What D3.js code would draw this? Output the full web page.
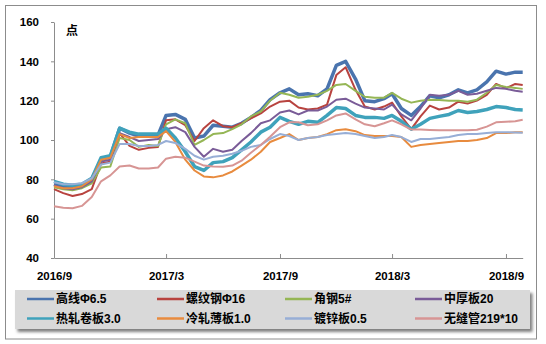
<!DOCTYPE html>
<html>
<head>
<meta charset="utf-8">
<script src="https://cdn.jsdelivr.net/npm/d3@7"></script>
<style>
  body { margin: 0; background: #fff; }
  svg { display: block; }
</style>
</head>
<body>
<svg id="chart" width="546" height="344"></svg>
<script>
// Semi-monthly observation dates
const dates = [
  "2016-09-01","2016-09-16","2016-10-01","2016-10-16","2016-11-01","2016-11-16","2016-12-01","2016-12-16",
  "2017-01-01","2017-01-16","2017-02-01","2017-02-16","2017-03-01","2017-03-16","2017-04-01","2017-04-16",
  "2017-05-01","2017-05-16","2017-06-01","2017-06-16","2017-07-01","2017-07-16","2017-08-01","2017-08-16",
  "2017-09-01","2017-09-16","2017-10-01","2017-10-16","2017-11-01","2017-11-16","2017-12-01","2017-12-16",
  "2018-01-01","2018-01-16","2018-02-01","2018-02-16","2018-03-01","2018-03-16","2018-04-01","2018-04-16",
  "2018-05-01","2018-05-16","2018-06-01","2018-06-16","2018-07-01","2018-07-16","2018-08-01","2018-08-16",
  "2018-09-01","2018-09-16","2018-09-28"
];

// Price index series (points)
const gaoxian = [77.5,76,76,77,80,90,91.5,106,103.5,102,102.5,102.5,112.5,113,110.5,101,102,107.5,107,106.5,108.5,111.5,115,120.5,124,126,123,123.5,122.5,126,138,140,131,120,119.5,121,123.5,116,112.5,117,122.5,121.5,123,125.5,124,125.5,129.5,135,133.5,134.5,134.5];
const luowengang = [75,73,71.5,72.5,75,88,89,103.5,97,95,96,96.5,110,110.5,107.5,99.5,106,110,107,106.5,108.5,111,113.5,117,119.5,120,116.5,115.5,116,118,133,137,125.5,117,115.5,117,119,112,105.5,112,117.5,115.5,116.5,119.5,118.5,120,123,128.5,126.3,128.5,128];
const jiaogang = [76,75,74.5,75.5,78,86,86.5,101,100,96.5,97.5,97,108,110.5,108.5,97.5,100,103,103.5,105.5,108,112,114.5,120,124,123,121.5,122,123,125,128,128.5,125,122,121.5,121.5,124,121,119,120,120.5,120.3,120,120,119.5,120.5,124,128,127,126.5,126];
const zhonghouban = [77,75.5,75,76,79,89,90,103.5,101.5,99.5,100,100.5,105.5,106.5,104,96.5,91.5,95.5,94,95,99.5,103.5,108.5,110,114,115,113,115,115,117,120.5,121,118.5,116.5,116,115.5,118,113,110,116,123,122.5,123,125,123,123.5,125,126.5,126,125,124.5];
const rezhajuanban = [79,77.5,77,77.5,80.5,91,92,106,104,103,103,103,106,101,94,86.5,84.5,88.5,89,91,95,99,104,106.5,111.5,109.5,108,109.5,109,112.5,116.5,116,112.5,111.5,111.5,111,112.5,109.5,105.5,108,111,112,113,115,114,114.5,115.5,117,116.5,115.5,115.3];
const lengzhabaoban = [76.5,75.5,75.5,76.5,80,90,91,103,101,101.5,101.5,101.5,104.5,99,90,84.5,81.5,81,82,84,87,90,94,99,101,103,100,101,101.5,103,105,105.5,104.5,102.5,102,102,102,101.5,96.5,97.5,98,98.5,99,99.5,99.5,100,101,103.5,103.5,104,104];
const duxinban = [78.5,77.5,77.5,78,80.5,87.5,88.5,98,98,97,97,97.5,99.5,98.5,95.5,92,90,91.5,92,93,94.5,96.5,97.5,100.5,103,102,100,101,101.5,102.5,103,103.5,103,102,101,101.5,102.5,101.5,99,100.5,100.5,101,101.5,102.5,103,103,103.5,104,104,103.8,103.7];
const wufengguan = [66.3,65.5,65.3,66.5,71,79,82,86.5,87,85.5,85.5,86,90.5,91.5,91,89,87,86.5,86.4,87,89.5,93.5,97.5,101.7,106.5,109,109,107.5,108,110,112.5,113.5,110.5,108,107,108.5,110,108,105.3,105.3,105.1,105,105,105,105,105.2,106.8,109,109.3,109.5,110.3];

const seriesNames = ["高线Φ6.5","螺纹钢Φ16","角钢5#","中厚板20","热轧卷板3.0","冷轧薄板1.0","镀锌板0.5","无缝管219*10"];
const seriesValues = [gaoxian, luowengang, jiaogang, zhonghouban, rezhajuanban, lengzhabaoban, duxinban, wufengguan];
const colors = ["#4a74ae","#b8433f","#95b655","#7a5c98","#3fa2bb","#e88b3e","#97aed6","#d79594"];
const widths = [3.5,2,2,2,3.5,2,2,2];

const yTicks = [40,60,80,100,120,140,160];
const xTickLabels = ["2016-09-01","2017-03-01","2017-09-01","2018-03-01","2018-09-01"];

const parse = d3.timeParse("%Y-%m-%d");
const dateObjs = dates.map(parse);

const svg = d3.select("#chart");
const fontLatin = "'Liberation Sans', Arial, sans-serif";
const fontMixed = "'Liberation Sans', 'Noto Sans CJK SC', sans-serif";
const fontCJK = "'Noto Sans CJK SC', 'Liberation Sans', sans-serif";

// Outer frame
svg.append("rect")
  .attr("x", 5.5).attr("y", 5.5).attr("width", 531).attr("height", 333.5)
  .attr("fill", "#fff").attr("stroke", "#8c8c8c").attr("stroke-width", 1);

const x = d3.scaleTime()
  .domain([parse("2016-09-01"), parse("2018-09-28")])
  .range([54, 522.7]);
const y = d3.scaleLinear().domain([40, 160]).range([258, 22]);

// Y axis
const yAxis = svg.append("g")
  .attr("transform", "translate(54,0)")
  .call(d3.axisLeft(y).tickValues(yTicks).tickSizeInner(3).tickSizeOuter(0).tickPadding(12));
yAxis.select(".domain").attr("stroke", "#8c8c8c");
yAxis.selectAll(".tick line").attr("stroke", "#8c8c8c");
yAxis.selectAll("text")
  .attr("font-family", fontLatin).attr("font-size", 11.5).attr("font-weight", "bold").attr("fill", "#000");

// X axis
const xAxis = svg.append("g")
  .attr("transform", "translate(0,258)")
  .call(d3.axisBottom(x).tickValues(xTickLabels.map(parse))
    .tickFormat(d3.timeFormat("%Y/%-m")).tickSizeInner(-4).tickSizeOuter(0).tickPadding(14));
xAxis.select(".domain").attr("stroke", "#8c8c8c");
xAxis.selectAll(".tick line").attr("stroke", "#8c8c8c");
xAxis.selectAll("text")
  .attr("font-family", fontLatin).attr("font-size", 11.5).attr("font-weight", "bold").attr("fill", "#000");

// Unit label
svg.append("text")
  .attr("x", 66).attr("y", 35)
  .attr("font-family", fontCJK).attr("font-size", 12).attr("font-weight", "bold")
  .text("点");

// Series lines
const line = d3.line()
  .x((d, i) => x(dateObjs[i]))
  .y(d => y(d))
  .curve(d3.curveLinear);

seriesValues.forEach((vals, k) => {
  svg.append("path")
    .datum(vals)
    .attr("fill", "none")
    .attr("stroke", colors[k])
    .attr("stroke-width", widths[k])
    .attr("stroke-linejoin", "round")
    .attr("d", line);
});

// Legend
const defs = svg.append("defs");
const f = defs.append("filter").attr("id", "shadow").attr("x", "-5%").attr("y", "-20%").attr("width", "110%").attr("height", "160%");
f.append("feDropShadow").attr("dx", 2.5).attr("dy", 3).attr("stdDeviation", 1.6).attr("flood-color", "#000").attr("flood-opacity", 0.5);

svg.append("rect")
  .attr("x", 15).attr("y", 290).attr("width", 515).attr("height", 39)
  .attr("fill", "#d9d9d9").attr("filter", "url(#shadow)");

const colX = [27, 157, 285, 415];
const rowY = [299, 318.5];
seriesNames.forEach((name, k) => {
  const cx = colX[k % 4];
  const cy = rowY[Math.floor(k / 4)];
  svg.append("line")
    .attr("x1", cx).attr("x2", cx + 27).attr("y1", cy).attr("y2", cy)
    .attr("stroke", colors[k]).attr("stroke-width", 2.5);
  svg.append("text")
    .attr("x", cx + 29).attr("y", cy).attr("dy", "0.36em")
    .attr("font-family", fontMixed).attr("font-size", 12).attr("font-weight", "bold")
    .attr("fill", "#000")
    .text(name);
});
</script>
</body>
</html>
